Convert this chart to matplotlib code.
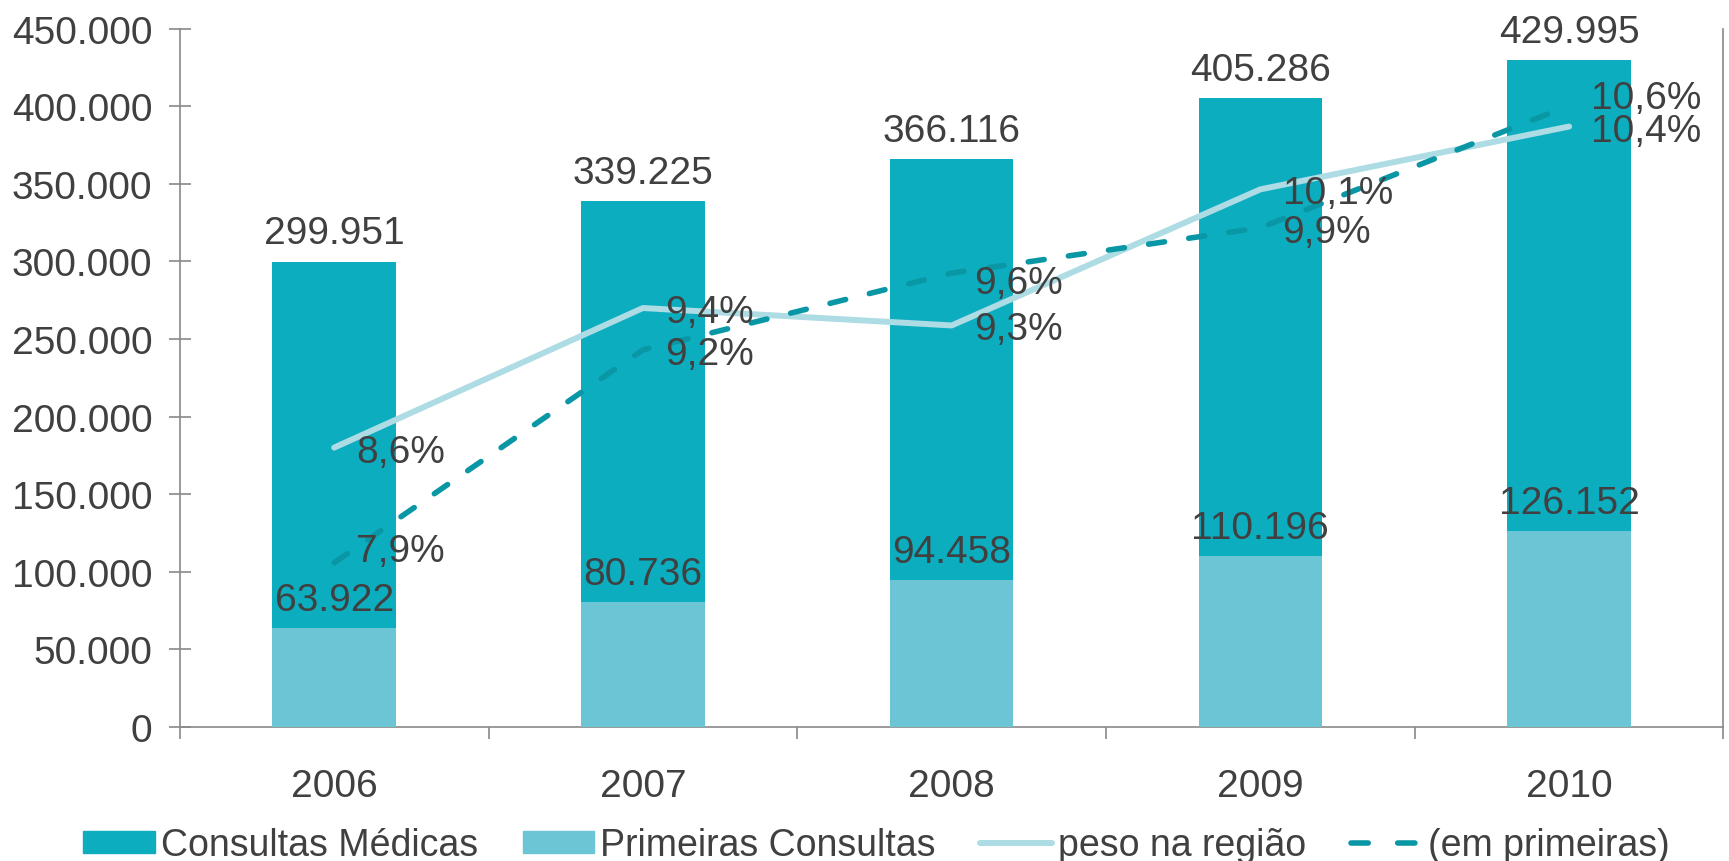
import matplotlib
matplotlib.use("Agg")
import matplotlib.pyplot as plt
from matplotlib.lines import Line2D
from matplotlib.patches import Patch

years = ["2006", "2007", "2008", "2009", "2010"]
consultas_medicas = [299951, 339225, 366116, 405286, 429995]
primeiras_consultas = [63922, 80736, 94458, 110196, 126152]
peso_regiao = [8.6, 9.4, 9.3, 10.08, 10.44]
em_primeiras = [7.94, 9.16, 9.6, 9.86, 10.56]

# small vertical nudges (points) for the "(em primeiras)" labels
em_label_nudge = [11, 0, -4, 0, 8]

DARK = "#0DADC0"
LIGHT = "#6BC5D5"
LINE_LIGHT = "#ADDCE4"
LINE_DARK = "#0A97A5"
TEXT = "#404040"
AXIS = "#898989"
FS = 28

plt.rcParams["font.family"] = ["Liberation Sans", "DejaVu Sans"]


def fmt_thousands(v):
    return f"{v:,.0f}".replace(",", ".")


def fmt_pct(v):
    return f"{v:.1f}%".replace(".", ",")


fig = plt.figure(figsize=(17.29, 8.62), dpi=100)
ax = fig.add_axes([0.104, 0.1557, 0.8928, 0.8097])
x = list(range(len(years)))

ax.bar(x, consultas_medicas, width=0.4, color=DARK, zorder=2)
ax.bar(x, primeiras_consultas, width=0.4, color=LIGHT, zorder=3)

for xi, v in zip(x, consultas_medicas):
    ax.annotate(fmt_thousands(v), (xi, v), xytext=(0, 13), textcoords="offset points",
                ha="center", va="baseline", fontsize=FS, color=TEXT, zorder=6)
for xi, v in zip(x, primeiras_consultas):
    ax.annotate(fmt_thousands(v), (xi, v), xytext=(0, 13), textcoords="offset points",
                ha="center", va="baseline", fontsize=FS, color=TEXT, zorder=6)

ax.set_xlim(-0.5, len(years) - 0.5)
ax.set_ylim(0, 450000)
ax.set_yticks(range(0, 450001, 50000))
ax.set_yticklabels([fmt_thousands(v) for v in range(0, 450001, 50000)])
ax.tick_params(axis="y", direction="inout", length=15.8, width=1.2, color=AXIS,
               labelsize=FS, labelcolor=TEXT, pad=12)

ax.set_xticks([i - 0.5 for i in range(len(years) + 1)])
ax.set_xticklabels([])
ax.set_xticks(x, minor=True)
ax.set_xticklabels(years, minor=True)
ax.tick_params(axis="x", which="major", direction="out", length=8.6, width=1.2, color=AXIS)
ax.tick_params(axis="x", which="minor", length=0, labelsize=FS, labelcolor=TEXT, pad=30)

for s in ["top", "right"]:
    ax.spines[s].set_visible(False)
for s in ["left", "bottom"]:
    ax.spines[s].set_color(AXIS)
    ax.spines[s].set_linewidth(1.2)

ax2 = ax.twinx()
ax2.set_ylim(7, 11)
ax2.set_yticks([])
for s in ax2.spines.values():
    s.set_visible(False)
ax2.spines["right"].set_visible(True)
ax2.spines["right"].set_color(AXIS)
ax2.spines["right"].set_linewidth(1.2)

ax2.plot(x, peso_regiao, color=LINE_LIGHT, lw=4.3, solid_capstyle="round", zorder=4)
ax2.plot(x, em_primeiras, color=LINE_DARK, lw=4.0, dashes=(2.9, 4.4),
         dash_capstyle="round", zorder=4)

for xi, v in zip(x, peso_regiao):
    ax2.annotate(fmt_pct(v), (xi, v), xytext=(16, 0), textcoords="offset points",
                 ha="left", va="center_baseline", fontsize=FS, color=TEXT, zorder=6)
for xi, v, dy in zip(x, em_primeiras, em_label_nudge):
    ax2.annotate(fmt_pct(v), (xi, v), xytext=(16, dy), textcoords="offset points",
                 ha="left", va="center_baseline", fontsize=FS, color=TEXT, zorder=6)

handles = [
    Patch(color=DARK),
    Patch(color=LIGHT),
    Line2D([], [], color=LINE_LIGHT, lw=4.3, solid_capstyle="round"),
    Line2D([], [], color=LINE_DARK, lw=4.0, dashes=(3.1, 5.3), dash_capstyle="round"),
]
labels = ["Consultas Médicas", "Primeiras Consultas", "peso na região", "(em primeiras)"]
fig.legend(handles, labels, loc="center", bbox_to_anchor=(0.507, 0.018), ncol=4,
           frameon=False, fontsize=27, labelcolor=TEXT, handlelength=1.91,
           handleheight=0.5, handletextpad=0.15, columnspacing=1.2)

fig.savefig("out.png", dpi=100)
